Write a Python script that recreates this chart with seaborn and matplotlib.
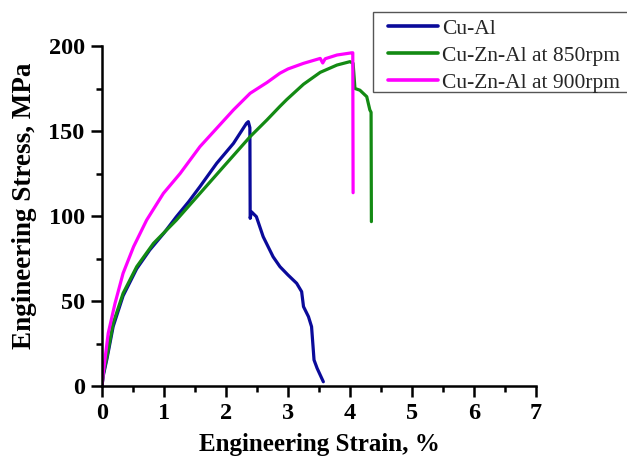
import matplotlib
matplotlib.use("Agg")
import matplotlib.pyplot as plt
import seaborn as sns
import pandas as pd
from matplotlib.ticker import MultipleLocator
from matplotlib.lines import Line2D
from matplotlib.patches import Rectangle

# ---- data ----
series_names = ["Cu-Al", "Cu-Zn-Al at 850rpm", "Cu-Zn-Al at 900rpm"]
series_colors = ["#0a0a9a", "#138a13", "#ff00ff"]

cual_strain = [0, 0.02, 0.08, 0.18, 0.34, 0.56, 0.77, 1.0, 1.2, 1.4, 1.58, 1.85, 2.12,
               2.33, 2.36, 2.385, 2.39, 2.41, 2.49, 2.60, 2.76, 2.87, 3.0, 3.14, 3.22,
               3.25, 3.33, 3.38, 3.40, 3.42, 3.47, 3.57]
cual_stress = [0, 6, 16, 35, 53, 69, 80, 90, 99.6, 108.5, 117.3, 131, 142.7,
               154.5, 155.5, 152, 98.6, 102.5, 99.6, 87.8, 76, 70.2, 65.3, 60.4, 55.5,
               46.7, 40.8, 34.9, 25.1, 15.3, 10.4, 2.5]

g850_strain = [0, 0.02, 0.08, 0.18, 0.34, 0.56, 0.83, 1.20, 1.58, 1.96, 2.39, 2.66,
               2.87, 2.98, 3.25, 3.52, 3.79, 4.0, 4.05, 4.08, 4.16, 4.27, 4.32, 4.34,
               4.345]
g850_stress = [0, 7, 17.3, 36.9, 54.5, 70.2, 83.9, 97.6, 113.3, 129, 146.7, 156.5,
               164.5, 168.5, 177.5, 184.5, 188.8, 190.8, 189.8, 175, 174, 170.2, 162.4,
               161, 96.7]

p900_strain = [0, 0.02, 0.10, 0.21, 0.34, 0.51, 0.72, 0.99, 1.26, 1.58, 1.85, 2.12,
               2.39, 2.66, 2.87, 3.0, 3.25, 3.52, 3.56, 3.60, 3.79, 4.03, 4.045, 4.05]
p900_stress = [0, 7.5, 31, 48.6, 66.3, 82, 97.6, 113.3, 125, 140.8, 151.6, 162.4,
               172.2, 178.5, 184, 186.5, 189.8, 192.7, 190, 192.5, 194.7, 196, 196, 113.7]

x_ticks = [0, 1, 2, 3, 4, 5, 6, 7]
y_ticks = [0, 50, 100, 150, 200]

frames = []
for name, xs, ys in zip(series_names,
                        [cual_strain, g850_strain, p900_strain],
                        [cual_stress, g850_stress, p900_stress]):
    frames.append(pd.DataFrame({"strain": xs, "stress": ys, "series": name}))
df = pd.concat(frames, ignore_index=True)

sns.set_theme(style="ticks")
plt.rcParams["font.family"] = ["Liberation Serif", "DejaVu Serif"]

W, H = 627, 463
fig = plt.figure(figsize=(W / 100, H / 100), dpi=100)
ax = fig.add_axes([102 / W, 77 / H, 434 / W, 340 / H])

sns.lineplot(data=df, x="strain", y="stress", hue="series", hue_order=series_names,
             palette=series_colors, sort=False, estimator=None, units="series",
             linewidth=2.3, ax=ax, legend=False)

ax.set_xlim(0, 7)
ax.set_ylim(0, 200)
ax.set_xticks(x_ticks)
ax.set_yticks(y_ticks)
ax.xaxis.set_minor_locator(MultipleLocator(0.5))
ax.yaxis.set_minor_locator(MultipleLocator(25))
ax.tick_params(which="major", direction="out", length=8, width=1.8, color="black",
               labelsize=17.5, pad=4.5, labelcolor="black")
ax.tick_params(which="minor", direction="out", length=4.5, width=1.8, color="black")
for lab in ax.get_xticklabels() + ax.get_yticklabels():
    lab.set_fontweight("bold")
for s in ["top", "right"]:
    ax.spines[s].set_visible(False)
for s in ["left", "bottom"]:
    ax.spines[s].set_linewidth(1.8)
    ax.spines[s].set_color("black")

ax.set_xlabel("Engineering Strain, %", fontsize=18, fontweight="bold", labelpad=6,
              color="black")
ax.set_ylabel("Engineering Stress, MPa", fontsize=19.5, fontweight="bold",
              color="black")
ax.yaxis.set_label_coords((37 - 102) / 434, (386 - 206) / 340)

# legend frame (extends past the right edge of the figure)
fig.patches.append(Rectangle((373 / W, 1 - 92 / H), (W + 20 - 373) / W, 80 / H,
                             transform=fig.transFigure, facecolor="white",
                             edgecolor="#555555", linewidth=1.0, clip_on=False,
                             zorder=5))
handles = [Line2D([], [], color=c, linewidth=2.6) for c in series_colors]
leg = fig.legend(handles, series_names, loc="upper left",
                 bbox_to_anchor=(388 / W, 1 - 18.5 / H), borderaxespad=0, borderpad=0,
                 fontsize=15.5, frameon=False, handlelength=2.3,
                 handletextpad=0.22, labelspacing=0.33)
leg.set_zorder(6)

fig.savefig("out.png", dpi=100)
